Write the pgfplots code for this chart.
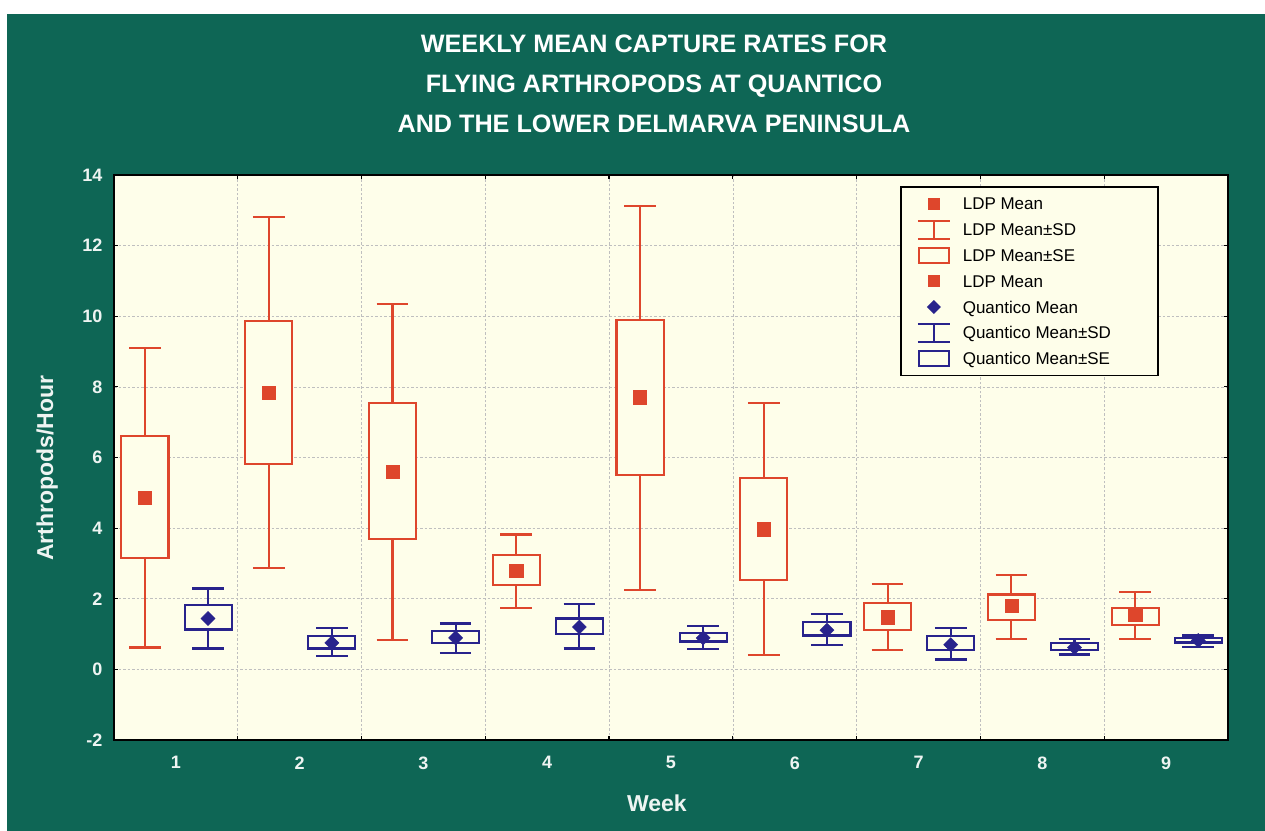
\documentclass[border=0pt]{standalone}
\usepackage{fontspec}
\setmainfont{Liberation Sans}
\usepackage{pgfplots}
\pgfplotsset{compat=1.18}
\usepackage{pgfplotstable}
\usepgfplotslibrary{statistics}

\definecolor{bggreen}{RGB}{14,102,85}
\definecolor{plotbg}{RGB}{254,254,234}
\definecolor{ldpred}{RGB}{222,70,44}
\definecolor{qblue}{RGB}{40,35,140}
\definecolor{labelwhite}{RGB}{238,244,242}

\pgfplotstableread{
week mean selo sehi sdlo sdhi
1 4.86 3.16 6.61 0.62 9.10
2 7.84 5.81 9.87 2.86 12.80
3 5.60 3.68 7.54 0.84 10.35
4 2.79 2.39 3.23 1.75 3.82
5 7.71 5.50 9.90 2.26 13.12
6 3.97 2.52 5.41 0.40 7.55
7 1.48 1.11 1.88 0.54 2.41
8 1.80 1.39 2.12 0.87 2.67
9 1.55 1.25 1.75 0.85 2.18
}\ldp

\pgfplotstableread{
week mean selo sehi sdlo sdhi
1 1.44 1.13 1.82 0.59 2.29
2 0.75 0.59 0.94 0.37 1.17
3 0.89 0.75 1.08 0.46 1.30
4 1.20 0.99 1.44 0.59 1.84
5 0.89 0.79 1.04 0.57 1.23
6 1.11 0.96 1.35 0.70 1.58
7 0.70 0.54 0.94 0.28 1.17
8 0.62 0.56 0.75 0.42 0.87
9 0.82 0.76 0.90 0.63 0.96
}\qdata

% draw one box (SE) with whiskers (SD) from row #2 of table #1 at x=#3, colour #4
\newcommand\meanbox[4]{%
  \pgfplotstablegetelem{#2}{sdlo}\of#1\let\vlw\pgfplotsretval
  \pgfplotstablegetelem{#2}{selo}\of#1\let\vlq\pgfplotsretval
  \pgfplotstablegetelem{#2}{mean}\of#1\let\vmd\pgfplotsretval
  \pgfplotstablegetelem{#2}{sehi}\of#1\let\vuq\pgfplotsretval
  \pgfplotstablegetelem{#2}{sdhi}\of#1\let\vuw\pgfplotsretval
  \edef\tmpplot{\noexpand\addplot[draw=#4, line width=2.1bp, forget plot,
    boxplot/every whisker/.style={draw=#4, line width=2.1bp},
    boxplot/every box/.style={draw=#4, fill=plotbg, line width=2.1bp},
    boxplot prepared={draw direction=y, draw position=#3, lower whisker=\vlw, lower quartile=\vlq,
      median=\vmd, upper quartile=\vuq, upper whisker=\vuw}] coordinates {};}%
  \tmpplot
}

\begin{document}
\begin{tikzpicture}
\useasboundingbox (0,0) rectangle (1265bp,831bp);
\fill[white] (0,0) rectangle (1265bp,831bp);
\fill[bggreen] (7bp,0) rectangle (1265bp,817bp);
\node[align=center, text=white, font=\fontsize{25.2bp}{40bp}\selectfont\bfseries] at (654bp,747bp)
  {WEEKLY MEAN CAPTURE RATES FOR\\FLYING ARTHROPODS AT QUANTICO\\AND THE LOWER DELMARVA PENINSULA};
\begin{axis}[
  at={(114bp,91bp)}, anchor=south west,
  scale only axis, width=1114bp, height=565bp,
  xmin=0.5, xmax=9.5, ymin=-2, ymax=14,
  ytick={-2,0,...,14},
  xtick={1.5,2.5,...,8.5}, xticklabels={},
  extra x ticks={1,2,3,4,5,6,7,8,9},
  extra x tick labels={1,2,3,4,5,6,7,8,9},
  extra x tick style={major tick length=0pt, grid=none},
  grid=major,
  grid style={gray!50, line width=0.7bp, dash pattern=on 2.5bp off 2bp},
  axis background/.style={fill=plotbg},
  axis line style={black, line width=1.8bp},
  tick style={black, line width=1.2bp},
  major tick length=4bp,
  tick label style={font=\fontsize{18bp}{21bp}\selectfont\bfseries, text=labelwhite},
  /pgf/number format/assume math mode=true,
  yticklabel style={xshift=-8bp},
  xticklabel style={yshift=-13bp},
  xlabel={Week}, ylabel={Arthropods/Hour},
  label style={font=\fontsize{23bp}{26bp}\selectfont\bfseries, text=labelwhite},
  xlabel style={at={(axis description cs:0.4874,-0.1115)}, anchor=center},
  ylabel style={at={(axis description cs:-0.060,0.481)}, anchor=center},
  boxplot/box extend=0.38,
  boxplot/whisker extend=0.256,
  boxplot/draw/median/.code={},
  legend style={at={(0.7056,0.9805)}, anchor=north west, draw=black, line width=1.6bp,
    fill=plotbg, inner xsep=16bp, inner ysep=5bp,
    font=\fontsize{17bp}{20bp}\selectfont, row sep=1.8bp, column sep=12bp,
    nodes={inner sep=0pt, text height=18bp, text depth=6bp, anchor=base west}},
]
\meanbox{\ldp}{0}{0.75}{ldpred}
\meanbox{\ldp}{1}{1.75}{ldpred}
\meanbox{\ldp}{2}{2.75}{ldpred}
\meanbox{\ldp}{3}{3.75}{ldpred}
\meanbox{\ldp}{4}{4.75}{ldpred}
\meanbox{\ldp}{5}{5.75}{ldpred}
\meanbox{\ldp}{6}{6.75}{ldpred}
\meanbox{\ldp}{7}{7.75}{ldpred}
\meanbox{\ldp}{8}{8.75}{ldpred}
\meanbox{\qdata}{0}{1.26}{qblue}
\meanbox{\qdata}{1}{2.26}{qblue}
\meanbox{\qdata}{2}{3.26}{qblue}
\meanbox{\qdata}{3}{4.26}{qblue}
\meanbox{\qdata}{4}{5.26}{qblue}
\meanbox{\qdata}{5}{6.26}{qblue}
\meanbox{\qdata}{6}{7.26}{qblue}
\meanbox{\qdata}{7}{8.26}{qblue}
\meanbox{\qdata}{8}{9.26}{qblue}
\addplot[only marks, mark=square*, mark size=6.6bp, mark options={fill=ldpred, draw=ldpred, line width=0.4bp}, forget plot]
  table[x expr=\thisrow{week}-0.25, y=mean]{\ldp};
\addplot[only marks, mark=square*, mark size=5bp, mark options={fill=qblue, draw=qblue, line width=0.4bp, rotate=45}, forget plot]
  table[x expr=\thisrow{week}+0.26, y=mean]{\qdata};

\addlegendimage{legend image code/.code={\path[draw=none] (0bp,-6bp) rectangle (32bp,18bp); \fill[ldpred, draw=none] (10bp,0bp) rectangle (22bp,12bp);}}
\addlegendentry{\makebox[179bp][l]{LDP Mean}}
\addlegendimage{legend image code/.code={\path[draw=none] (0bp,-6bp) rectangle (32bp,18bp); \draw[ldpred, line width=2bp] (0bp,-3bp) -- (32bp,-3bp) (16bp,-3bp) -- (16bp,15bp) (0bp,15bp) -- (32bp,15bp);}}
\addlegendentry{\makebox[179bp][l]{LDP Mean±SD}}
\addlegendimage{legend image code/.code={\path[draw=none] (0bp,-6bp) rectangle (32bp,18bp); \draw[ldpred, line width=2bp] (1bp,-1.5bp) rectangle (31bp,13.5bp);}}
\addlegendentry{\makebox[179bp][l]{LDP Mean±SE}}
\addlegendimage{legend image code/.code={\path[draw=none] (0bp,-6bp) rectangle (32bp,18bp); \fill[ldpred, draw=none] (10bp,0bp) rectangle (22bp,12bp);}}
\addlegendentry{\makebox[179bp][l]{LDP Mean}}
\addlegendimage{legend image code/.code={\path[draw=none] (0bp,-6bp) rectangle (32bp,18bp); \fill[qblue, draw=none] (16bp,-1bp) -- (23bp,6bp) -- (16bp,13bp) -- (9bp,6bp) -- cycle;}}
\addlegendentry{\makebox[179bp][l]{Quantico Mean}}
\addlegendimage{legend image code/.code={\path[draw=none] (0bp,-6bp) rectangle (32bp,18bp); \draw[qblue, line width=2bp] (0bp,-3bp) -- (32bp,-3bp) (16bp,-3bp) -- (16bp,15bp) (0bp,15bp) -- (32bp,15bp);}}
\addlegendentry{\makebox[179bp][l]{Quantico Mean±SD}}
\addlegendimage{legend image code/.code={\path[draw=none] (0bp,-6bp) rectangle (32bp,18bp); \draw[qblue, line width=2bp] (1bp,-1.5bp) rectangle (31bp,13.5bp);}}
\addlegendentry{\makebox[179bp][l]{Quantico Mean±SE}}
\end{axis}
\end{tikzpicture}
\end{document}
